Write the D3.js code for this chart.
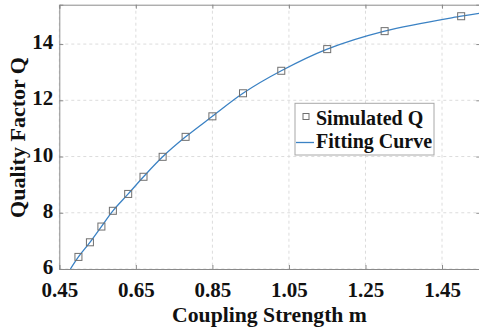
<!DOCTYPE html>
<html><head><meta charset="utf-8">
<script src="https://cdn.jsdelivr.net/npm/d3@7"></script>
<style>body{margin:0;background:#fff}svg{display:block}</style>
</head><body>
<script>
const simX = [0.50,0.53,0.56,0.59,0.63,0.67,0.72,0.78,0.85,0.93,1.03,1.15,1.30,1.50];
const simQ = [6.43,6.95,7.51,8.07,8.67,9.28,9.99,10.70,11.43,12.25,13.05,13.82,14.46,14.99];
const fitX = [0.479,0.50,0.53,0.56,0.59,0.63,0.67,0.72,0.78,0.85,0.93,1.03,1.15,1.30,1.50,1.55];
const fitQ = [6.0,6.43,6.95,7.51,8.07,8.67,9.28,9.99,10.70,11.43,12.25,13.05,13.82,14.46,14.99,15.10];
const xTicks = [0.45,0.65,0.85,1.05,1.25,1.45];
const yTicks = [6,8,10,12,14];
const legendLabels = ["Simulated Q","Fitting Curve"];

const W=479,H=331;
const L=59.3,R=480.3,T=4.7,B=269;
const font="'Liberation Serif','Times New Roman',serif";
const svg=d3.select("body").append("svg").attr("width",W).attr("height",H);
const x=d3.scaleLinear().domain([0.45,1.55]).range([L,R]);
const y=d3.scaleLinear().domain([6,15.4]).range([B,T]);

// grid
const g=svg.append("g");
g.selectAll(".gx").data(xTicks).join("line").attr("x1",d=>x(d)).attr("x2",d=>x(d)).attr("y1",T).attr("y2",B)
 .attr("stroke","#dcdcdc").attr("stroke-dasharray","3,3").attr("stroke-width",1);
g.selectAll(".gy").data(yTicks).join("line").attr("x1",L).attr("x2",R).attr("y1",d=>y(d)).attr("y2",d=>y(d))
 .attr("stroke","#dcdcdc").attr("stroke-dasharray","3,3").attr("stroke-width",1);

// axes with inward ticks
const axCol="#8a8a8a";
const xb=svg.append("g").attr("transform",`translate(0,${B})`).call(d3.axisBottom(x).tickValues(xTicks).tickSize(-4).tickFormat(d3.format(".2f")).tickPadding(13));
const xt=svg.append("g").attr("transform",`translate(0,${T})`).call(d3.axisTop(x).tickValues(xTicks).tickSize(-4).tickFormat(""));
const yl=svg.append("g").attr("transform",`translate(${L},0)`).call(d3.axisLeft(y).tickValues(yTicks).tickSize(-4).tickFormat(d3.format("d")).tickPadding(6));
const yr=svg.append("g").attr("transform",`translate(${R},0)`).call(d3.axisRight(y).tickValues(yTicks).tickSize(-4).tickFormat(""));
[xb,xt,yl,yr].forEach(a=>{a.selectAll("path,line").attr("stroke",axCol);a.select(".domain").attr("stroke",axCol);});
[xb,yl].forEach(a=>a.selectAll("text").attr("font-family",font).attr("font-weight","bold").attr("font-size",21).attr("fill","#111"));
yl.selectAll("text").attr("dy","0.22em");
xb.selectAll("text").attr("dy","0.71em");

// clip
svg.append("clipPath").attr("id","clip").append("rect").attr("x",L).attr("y",T).attr("width",R-L).attr("height",B-T);

// fit curve
const fit=fitX.map((d,i)=>[d,fitQ[i]]);
svg.append("path").datum(fit).attr("clip-path","url(#clip)")
 .attr("d",d3.line().x(d=>x(d[0])).y(d=>y(d[1])).curve(d3.curveCatmullRom))
 .attr("fill","none").attr("stroke","#3b82c4").attr("stroke-width",1.3);

// markers
const s=7;
svg.selectAll(".m").data(simX.map((d,i)=>[d,simQ[i]])).join("rect")
 .attr("x",d=>x(d[0])-s/2).attr("y",d=>y(d[1])-s/2).attr("width",s).attr("height",s)
 .attr("fill","none").attr("stroke","#6f6f6f").attr("stroke-width",1);

// axis titles
svg.append("text").attr("x",269.5).attr("y",321.5).attr("text-anchor","middle")
 .attr("font-family",font).attr("font-weight","bold").attr("font-size",21.7).attr("fill","#111").text("Coupling Strength m");
svg.append("text").attr("transform","translate(25,137.5) rotate(-90)").attr("text-anchor","middle")
 .attr("font-family",font).attr("font-weight","bold").attr("font-size",22).attr("fill","#111").text("Quality Factor Q");

// legend
const lg=svg.append("g");
lg.append("rect").attr("x",295).attr("y",103.3).attr("width",139).attr("height",51.7).attr("fill","#fff").attr("stroke","#a8a8a8").attr("stroke-width",1);
lg.append("rect").attr("x",303).attr("y",113.5).attr("width",6).attr("height",6).attr("fill","none").attr("stroke","#6f6f6f");
lg.append("line").attr("x1",296).attr("x2",314).attr("y1",142.5).attr("y2",142.5).attr("stroke","#3b82c4").attr("stroke-width",1.3);
lg.selectAll(".lt").data(legendLabels).join("text").attr("x",316).attr("y",(d,i)=>125+i*23)
 .attr("font-family",font).attr("font-weight","bold").attr("font-size",20).attr("fill","#111").text(d=>d);
</script>
</body></html>
